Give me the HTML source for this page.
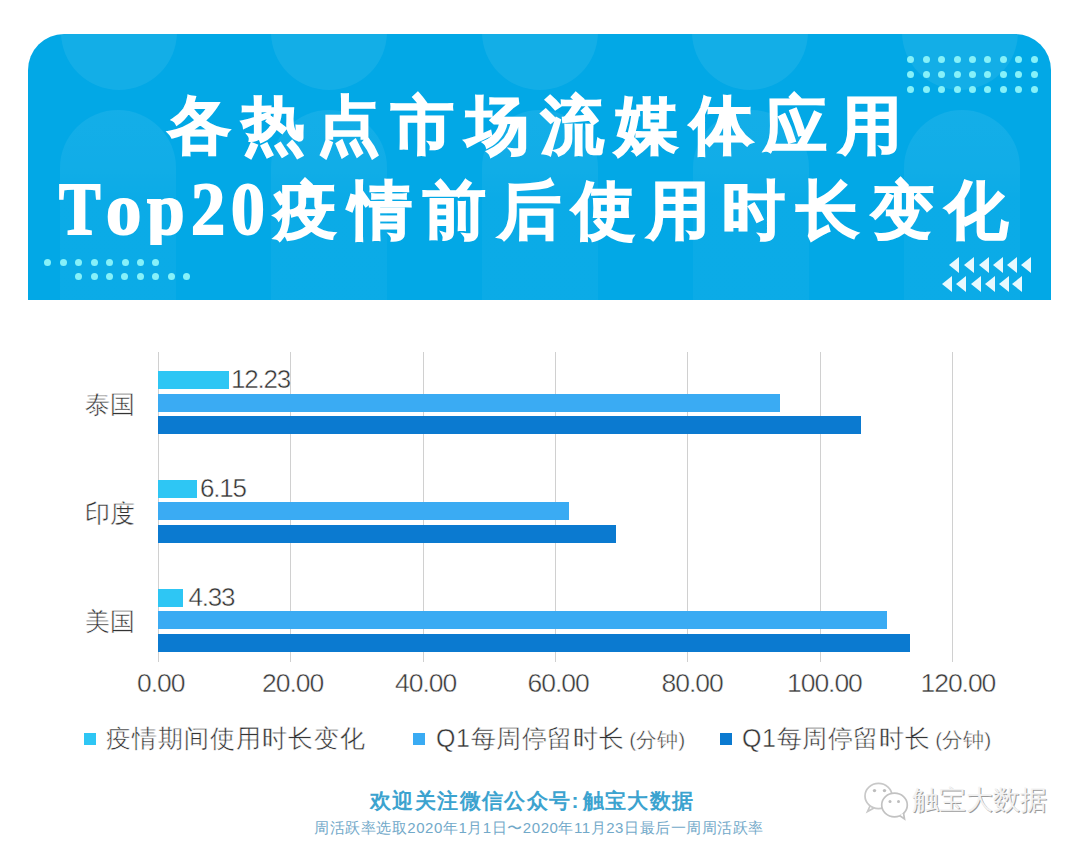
<!DOCTYPE html>
<html><head><meta charset="utf-8">
<style>
html,body{margin:0;padding:0;background:#fff;}
body{width:1080px;height:850px;position:relative;overflow:hidden;font-family:"Liberation Sans",sans-serif;}
.abs{position:absolute;}
#hdr{position:absolute;left:28px;top:34px;width:1023px;height:266px;background:#02a8e6;border-radius:36px 36px 0 0;overflow:hidden;}
.circ{position:absolute;border-radius:50%;background:rgba(255,255,255,0.07);}
.pill{position:absolute;border-radius:58px 58px 0 0;background:linear-gradient(rgba(255,255,255,0.07) 0,rgba(255,255,255,0.06) 58px,rgba(255,255,255,0.035) 90px,rgba(255,255,255,0.035) 100%);}
.t1,.t2{position:absolute;color:#fff;white-space:nowrap;font-weight:bold;-webkit-text-stroke:1.5px #fff;}
.t1{left:139.7px;top:59.5px;font-size:63px;line-height:63px;letter-spacing:11.6px;}
.t2{left:246px;top:144.5px;font-size:63px;line-height:63px;letter-spacing:11.6px;}
.sf{position:absolute;top:137px;-webkit-text-stroke:2px #fff;font-family:"Liberation Serif",serif;font-weight:bold;font-size:75px;line-height:75px;color:#fff;transform:scaleX(0.87);transform-origin:0 0;}
.dot{position:absolute;width:7px;height:7px;margin:-0.5px 0 0 -0.5px;border-radius:50%;background:#86f1f9;}
.tri{position:absolute;width:0;height:0;border-top:8px solid transparent;border-bottom:8px solid transparent;border-right:10px solid #e8f9fe;margin-top:-0.5px;}
.grid{position:absolute;top:352px;height:310px;width:1px;background:#d0d0d0;}
.bar{position:absolute;height:18px;}
.b1{background:#2ec6f4;}
.b2{background:#3aabf3;}
.b3{background:#0b7ad0;}
.lbl{position:absolute;font-size:25px;line-height:25px;color:#333;-webkit-text-stroke:0.45px #fff;white-space:nowrap;}
.ax{position:absolute;top:670px;font-size:26.5px;line-height:26px;color:#383838;letter-spacing:-1.05px;-webkit-text-stroke:0.45px #fff;white-space:nowrap;}
.val{position:absolute;font-size:26px;line-height:26px;color:#333;-webkit-text-stroke:0.45px #fff;letter-spacing:-1.2px;white-space:nowrap;}
.leg{position:absolute;top:726px;font-size:25px;line-height:25px;color:#333;-webkit-text-stroke:0.45px #fff;white-space:nowrap;letter-spacing:1.05px;}
.leg small{font-size:21px;letter-spacing:0;margin-left:5px;}
.sq{position:absolute;top:733px;width:12px;height:12px;}
</style></head><body>
<div id="hdr">
  <div class="circ" style="left:32.6px;top:-60.5px;width:116px;height:116px"></div>
  <div class="circ" style="left:242.7px;top:-60.5px;width:116px;height:116px"></div>
  <div class="circ" style="left:453.8px;top:-60.5px;width:116px;height:116px"></div>
  <div class="circ" style="left:664px;top:-60.5px;width:116px;height:116px"></div>
  <div class="circ" style="left:874px;top:-60.5px;width:116px;height:116px"></div>
  <div class="pill" style="left:32px;top:76px;width:116px;height:200px"></div>
  <div class="pill" style="left:243px;top:76px;width:116px;height:200px"></div>
  <div class="pill" style="left:454px;top:76px;width:116px;height:200px"></div>
  <div class="pill" style="left:665px;top:76px;width:116px;height:200px"></div>
  <div class="pill" style="left:876px;top:76px;width:116px;height:200px"></div>
  <div class="t1">各热点市场流媒体应用</div>
  <div class="t2">疫情前后使用时长变化</div>
  <span class="sf" style="left:30.5px;transform:scaleX(0.83)">T</span><span class="sf" style="left:77.5px;transform:scaleX(0.94)">o</span><span class="sf" style="left:118.5px;transform:scaleX(0.9);height:74px;overflow:hidden">p</span><span class="sf" style="left:163px;transform:scaleX(0.91)">2</span><span class="sf" style="left:203px;transform:scaleX(0.9)">0</span>
</div>
<div id="dots">
<div class="dot" style="left:907.6px;top:56.4px"></div>
<div class="dot" style="left:923.1px;top:56.4px"></div>
<div class="dot" style="left:938.5px;top:56.4px"></div>
<div class="dot" style="left:954.0px;top:56.4px"></div>
<div class="dot" style="left:969.4px;top:56.4px"></div>
<div class="dot" style="left:984.9px;top:56.4px"></div>
<div class="dot" style="left:1000.4px;top:56.4px"></div>
<div class="dot" style="left:1015.8px;top:56.4px"></div>
<div class="dot" style="left:1031.3px;top:56.4px"></div>
<div class="dot" style="left:907.6px;top:71.4px"></div>
<div class="dot" style="left:923.1px;top:71.4px"></div>
<div class="dot" style="left:938.5px;top:71.4px"></div>
<div class="dot" style="left:954.0px;top:71.4px"></div>
<div class="dot" style="left:969.4px;top:71.4px"></div>
<div class="dot" style="left:984.9px;top:71.4px"></div>
<div class="dot" style="left:1000.4px;top:71.4px"></div>
<div class="dot" style="left:1015.8px;top:71.4px"></div>
<div class="dot" style="left:1031.3px;top:71.4px"></div>
<div class="dot" style="left:907.6px;top:86.4px"></div>
<div class="dot" style="left:923.1px;top:86.4px"></div>
<div class="dot" style="left:938.5px;top:86.4px"></div>
<div class="dot" style="left:954.0px;top:86.4px"></div>
<div class="dot" style="left:969.4px;top:86.4px"></div>
<div class="dot" style="left:984.9px;top:86.4px"></div>
<div class="dot" style="left:1000.4px;top:86.4px"></div>
<div class="dot" style="left:1015.8px;top:86.4px"></div>
<div class="dot" style="left:1031.3px;top:86.4px"></div>
<div class="dot" style="left:44.8px;top:259.2px"></div>
<div class="dot" style="left:60.2px;top:259.2px"></div>
<div class="dot" style="left:75.7px;top:259.2px"></div>
<div class="dot" style="left:91.1px;top:259.2px"></div>
<div class="dot" style="left:106.5px;top:259.2px"></div>
<div class="dot" style="left:122.0px;top:259.2px"></div>
<div class="dot" style="left:137.4px;top:259.2px"></div>
<div class="dot" style="left:152.8px;top:259.2px"></div>
<div class="dot" style="left:75.6px;top:273.4px"></div>
<div class="dot" style="left:91.0px;top:273.4px"></div>
<div class="dot" style="left:106.4px;top:273.4px"></div>
<div class="dot" style="left:121.8px;top:273.4px"></div>
<div class="dot" style="left:137.2px;top:273.4px"></div>
<div class="dot" style="left:152.6px;top:273.4px"></div>
<div class="dot" style="left:168.0px;top:273.4px"></div>
<div class="dot" style="left:183.4px;top:273.4px"></div>
<div class="tri" style="left:949.4px;top:257px"></div>
<div class="tri" style="left:964.3px;top:257px"></div>
<div class="tri" style="left:979.0px;top:257px"></div>
<div class="tri" style="left:993.0px;top:257px"></div>
<div class="tri" style="left:1007.4px;top:257px"></div>
<div class="tri" style="left:1020.7px;top:257px"></div>
<div class="tri" style="left:941.7px;top:276.5px"></div>
<div class="tri" style="left:955.9px;top:276.5px"></div>
<div class="tri" style="left:970.7px;top:276.5px"></div>
<div class="tri" style="left:984.6px;top:276.5px"></div>
<div class="tri" style="left:998.5px;top:276.5px"></div>
<div class="tri" style="left:1011.9px;top:276.5px"></div>
</div>
<div id="chart">
  <div class="grid" style="left:158px"></div>
  <div class="grid" style="left:290px"></div>
  <div class="grid" style="left:423px"></div>
  <div class="grid" style="left:555px"></div>
  <div class="grid" style="left:687px"></div>
  <div class="grid" style="left:820px"></div>
  <div class="grid" style="left:952px"></div>

  <div class="bar b1" style="left:158px;top:371px;width:71px"></div>
  <div class="bar b2" style="left:158px;top:394px;width:622px"></div>
  <div class="bar b3" style="left:158px;top:416px;width:703px"></div>

  <div class="bar b1" style="left:158px;top:480px;width:39px"></div>
  <div class="bar b2" style="left:158px;top:502px;width:411px"></div>
  <div class="bar b3" style="left:158px;top:525px;width:458px"></div>

  <div class="bar b1" style="left:158px;top:589px;width:25px"></div>
  <div class="bar b2" style="left:158px;top:611px;width:729px"></div>
  <div class="bar b3" style="left:158px;top:634px;width:752px"></div>

  <div class="lbl" style="left:85px;top:392px">泰国</div>
  <div class="lbl" style="left:85px;top:501px">印度</div>
  <div class="lbl" style="left:85px;top:609px">美国</div>

  <div class="val" style="left:231px;top:365.5px">12.23</div>
  <div class="val" style="left:200px;top:475px">6.15</div>
  <div class="val" style="left:188.5px;top:584px">4.33</div>

  <div class="ax" style="left:137px">0.00</div>
  <div class="ax" style="left:262px">20.00</div>
  <div class="ax" style="left:395px">40.00</div>
  <div class="ax" style="left:527.5px">60.00</div>
  <div class="ax" style="left:661.5px">80.00</div>
  <div class="ax" style="left:787px">100.00</div>
  <div class="ax" style="left:920.5px">120.00</div>

  <div class="sq b1" style="left:84px"></div>
  <div class="leg" style="left:106px">疫情期间使用时长变化</div>
  <div class="sq b2" style="left:413px"></div>
  <div class="leg" style="left:436px;letter-spacing:0.6px">Q1每周停留时长<small>(分钟)</small></div>
  <div class="sq b3" style="left:720px"></div>
  <div class="leg" style="left:742px;letter-spacing:0.6px">Q1每周停留时长<small>(分钟)</small></div>
</div>
<div class="abs" style="left:370px;top:789px;font-size:21px;line-height:24px;font-weight:bold;color:#3ca3cf;white-space:nowrap;letter-spacing:1.4px">欢迎关注微信公众号<span style="letter-spacing:4px">:</span>触宝大数据</div>
<div class="abs" style="left:314px;top:819px;font-size:15px;line-height:18px;color:#72a9c9;white-space:nowrap;letter-spacing:0.55px">周活跃率选取2020年1月1日〜2020年11月23日最后一周周活跃率</div>
<svg class="abs" style="left:860px;top:778px" width="52" height="44" viewBox="860 778 52 44">
  <g stroke="#c8c8c8" stroke-width="1.7" fill="none">
    <ellipse cx="878.5" cy="796" rx="13.5" ry="12.6"/>
    <path d="M870 806 L867.5 811.5 L874 808"/>
  </g>
  <g stroke="#c2c2c2" stroke-width="1.7" fill="#fff">
    <ellipse cx="894.5" cy="805" rx="12.8" ry="11.8"/>
  </g>
  <path d="M899.5 815.5 L904.5 819 L903.5 813" stroke="#c2c2c2" stroke-width="1.7" fill="#fff"/>
  <g fill="#bdbdbd">
    <circle cx="874.5" cy="790.6" r="1.7"/><circle cx="884.5" cy="790.6" r="1.7"/>
    <circle cx="890" cy="801.5" r="1.5"/><circle cx="898.5" cy="801.5" r="1.5"/>
  </g>
</svg>
<div class="abs" style="left:912px;top:785px;font-size:26.5px;line-height:30px;color:#f2f2f2;white-space:nowrap;text-shadow:0.8px 0.8px 0.6px #9a9a9a,-0.5px -0.5px 0 #fff">触宝大数据</div>
</body></html>
